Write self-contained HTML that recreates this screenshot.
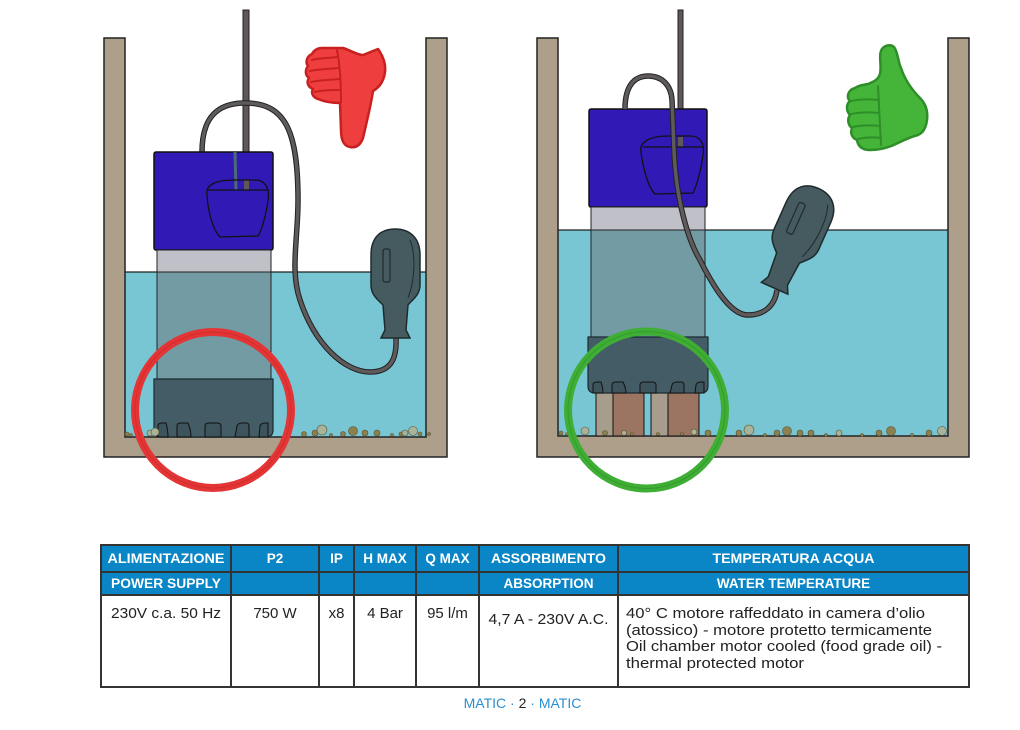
<!DOCTYPE html>
<html><head><meta charset="utf-8"><style>
html,body{margin:0;padding:0;background:#fff;}
svg{display:block;}
text{font-family:"Liberation Sans",sans-serif;}
</style></head><body>
<svg width="1020" height="730" viewBox="0 0 1020 730" xmlns="http://www.w3.org/2000/svg">
<defs>
<g id="float">
<path d="M371,255 C371,235 383,229 395,229 C410,229 420,238 420,255 L420,285 C420,295 412,300 408,305 L406,330 L410,338 L381,338 L385,330 L383,305 C378,300 371,295 371,285 Z" fill="#465b60" stroke="#1e2a2c" stroke-width="1.5"/>
<rect x="383" y="249" width="7" height="33" rx="2" fill="none" stroke="#1e2a2c" stroke-width="1.2"/>
<path d="M410,240 C416,255 415,280 408,298" fill="none" stroke="#1e2a2c" stroke-width="1"/>
</g>
</defs>

<!-- LEFT TANK -->
<rect x="125" y="272" width="304" height="165" fill="#78c6d4"/>
<line x1="125" y1="272" x2="432" y2="272" stroke="#222" stroke-width="1.2"/>
<path d="M104,38 L125,38 L125,437 L426,437 L426,38 L447,38 L447,457 L104,457 Z" fill="#ae9f8b" stroke="#222" stroke-width="1.5"/>

<!-- left pump -->
<rect x="243" y="10" width="6" height="180" fill="#5f5758" stroke="#222" stroke-width="1"/>
<path d="M202,152 C202,120 215,103 245,103 C285,103 298,130 298,200 C298,240 290,270 300,300 C315,345 345,372 370,372 C390,372 397,360 396,338" fill="none" stroke="#222" stroke-width="5.5"/>
<path d="M202,152 C202,120 215,103 245,103 C285,103 298,130 298,200 C298,240 290,270 300,300 C315,345 345,372 370,372 C390,372 397,360 396,338" fill="none" stroke="#5f5a5b" stroke-width="3.5"/>
<rect x="154" y="152" width="119" height="98" rx="2" fill="#3119b6" stroke="#111" stroke-width="1.5"/>
<line x1="235" y1="152" x2="236" y2="190" stroke="#4a6a78" stroke-width="3"/>
<rect x="244" y="180" width="5" height="10" fill="#5f5758"/>
<path d="M207,195 C205,185 215,180 235,180 L255,180 C265,180 270,188 268,200 C266,215 262,230 258,236 L220,237 C213,230 208,212 207,195 Z" fill="none" stroke="#111" stroke-width="1.3"/>
<line x1="208" y1="190" x2="268" y2="190" stroke="#111" stroke-width="1.2"/>
<rect x="157" y="250" width="114" height="22" fill="#bfc0c8" stroke="#222" stroke-width="1"/>
<rect x="157" y="272" width="114" height="107" fill="#739ba4" stroke="#222" stroke-width="1"/>
<path d="M154,379 L273,379 L273,430 Q273,437 266,437 L161,437 Q154,437 154,430 Z" fill="#445c66" stroke="#1a2a30" stroke-width="1.2"/>
<g fill="#3d545d" stroke="#111" stroke-width="1">
<path d="M158,437 L158,426 Q158,423 162,423 L166,423 Q168,430 168,437 Z"/>
<path d="M177,437 L177,426 Q177,423 181,423 L188,423 Q191,430 191,437 Z"/>
<path d="M205,437 L205,426 Q205,423 209,423 L217,423 Q221,423 221,426 L221,437 Z"/>
<path d="M235,437 L237,426 Q238,423 242,423 L246,423 Q249,423 249,426 L249,437 Z"/>
<path d="M259,437 L260,426 Q261,423 265,423 L268,423 L268,437 Z"/>
</g>
<use href="#float"/>
<!-- pebbles left -->
<g fill="#8a8050" stroke="#5a5030" stroke-width="0.6">
<circle cx="127" cy="434" r="2"/><circle cx="131" cy="435" r="1.5"/><circle cx="150" cy="433" r="3" fill="#a8b49a"/>
<circle cx="155" cy="432" r="4" fill="#a8b49a"/><circle cx="304" cy="434" r="2.5"/><circle cx="315" cy="433" r="3"/>
<circle cx="322" cy="430" r="5" fill="#a8b49a"/><circle cx="331" cy="435" r="1.5"/><circle cx="343" cy="434" r="2.5"/>
<circle cx="353" cy="431" r="4.5"/><circle cx="365" cy="433" r="3"/><circle cx="377" cy="433" r="3"/>
<circle cx="392" cy="435" r="1.5"/><circle cx="401" cy="434" r="2"/><circle cx="405" cy="433" r="3" fill="#a8b49a"/>
<circle cx="413" cy="431" r="4.5" fill="#a8b49a"/><circle cx="420" cy="434" r="2"/><circle cx="429" cy="434" r="1.5"/>
</g>
<!-- thumbs down -->
<path d="M322,48 L343,48 C350,50 357,55 363,55 L378,49 C383,56 386,64 385,72 C384,80 380,87 373,91 C371,105 366,125 363,138 C360,146 355,148 350,147 C344,146 341,140 341,130 L340,103 C333,103 325,102 318,99 C312,97 311,92 313,89 C308,87 306,82 309,78 C305,75 305,70 308,66 C305,62 307,56 312,54 C314,50 318,48 322,48 Z" fill="#ef3e3e" stroke="#c82020" stroke-width="2.5" stroke-linejoin="round"/>
<g fill="none" stroke="#c82020" stroke-width="2" stroke-linecap="round">
<path d="M312,60 C320,58 330,58 338,57"/><path d="M310,71 C320,69 330,69 339,68"/><path d="M311,82 C320,80 330,80 340,79"/><path d="M315,92 C322,90 332,90 340,90"/><path d="M337,50 C340,65 341,85 341,102"/>
</g>
<circle cx="213" cy="410" r="78" fill="none" stroke="#e33535" stroke-width="8"/>
<circle cx="213" cy="410" r="78" fill="none" stroke="#c82626" stroke-width="1" opacity="0.6"/>

<!-- RIGHT TANK -->
<rect x="558" y="230" width="390" height="206" fill="#78c6d4"/>
<line x1="558" y1="230" x2="948" y2="230" stroke="#222" stroke-width="1.2"/>
<path d="M537,38 L558,38 L558,436 L948,436 L948,38 L969,38 L969,457 L537,457 Z" fill="#ae9f8b" stroke="#222" stroke-width="1.5"/>

<!-- right pump -->
<rect x="678" y="10" width="5" height="137" fill="#5f5758" stroke="#222" stroke-width="1"/>
<rect x="589" y="109" width="118" height="98" rx="2" fill="#3119b6" stroke="#111" stroke-width="1.5"/>
<rect x="678" y="137" width="5" height="10" fill="#5f5758"/>
<path d="M641,152 C639,142 650,136 668,136 L690,136 C700,136 705,143 703,155 C701,170 697,185 693,193 L655,194 C648,187 643,168 641,152 Z" fill="none" stroke="#111" stroke-width="1.3"/>
<line x1="643" y1="147" x2="703" y2="147" stroke="#111" stroke-width="1.2"/>
<rect x="591" y="207" width="114" height="23" fill="#bfc0c8" stroke="#222" stroke-width="1"/>
<rect x="591" y="230" width="114" height="107" fill="#739ba4" stroke="#222" stroke-width="1"/>
<path d="M625,109 C625,85 635,76 648,76 C662,76 671,85 672,100 L674,150 C676,200 688,240 700,260 C720,300 735,315 748,315 C765,315 775,305 777,290" fill="none" stroke="#222" stroke-width="5.5"/>
<path d="M625,109 C625,85 635,76 648,76 C662,76 671,85 672,100 L674,150 C676,200 688,240 700,260 C720,300 735,315 748,315 C765,315 775,305 777,290" fill="none" stroke="#5f5a5b" stroke-width="3.5"/>
<rect x="596" y="393" width="17" height="43" fill="#a89c8d" stroke="#111" stroke-width="1"/>
<rect x="613" y="393" width="31" height="43" fill="#9b7562" stroke="#111" stroke-width="1"/>
<rect x="651" y="393" width="17" height="43" fill="#a89c8d" stroke="#111" stroke-width="1"/>
<rect x="668" y="393" width="31" height="43" fill="#9b7562" stroke="#111" stroke-width="1"/>
<path d="M588,337 L708,337 L708,386 Q708,393 701,393 L595,393 Q588,393 588,386 Z" fill="#445c66" stroke="#1a2a30" stroke-width="1.2"/>
<g fill="#3d545d" stroke="#111" stroke-width="1">
<path d="M593,393 L593,385 Q593,382 597,382 L601,382 Q603,388 603,393 Z"/>
<path d="M612,393 L612,385 Q612,382 616,382 L623,382 Q626,388 626,393 Z"/>
<path d="M640,393 L640,385 Q640,382 644,382 L652,382 Q656,382 656,385 L656,393 Z"/>
<path d="M670,393 L672,385 Q673,382 677,382 L681,382 Q684,382 684,385 L684,393 Z"/>
<path d="M695,393 L696,385 Q697,382 701,382 L704,382 L704,393 Z"/>
</g>
<use href="#float" transform="translate(797,238) rotate(24) translate(-395.5,-283)"/>
<!-- pebbles right -->
<g fill="#8a8050" stroke="#5a5030" stroke-width="0.6">
<circle cx="561" cy="433" r="2"/><circle cx="567" cy="434" r="1.5"/><circle cx="585" cy="431" r="4" fill="#a8b49a"/>
<circle cx="605" cy="433" r="2.5"/><circle cx="624" cy="433" r="2.5" fill="#a8b49a"/><circle cx="632" cy="434" r="1.5"/>
<circle cx="658" cy="434" r="1.5"/><circle cx="682" cy="434" r="1.5"/><circle cx="694" cy="432" r="3" fill="#a8b49a"/>
<circle cx="708" cy="433" r="3"/><circle cx="739" cy="433" r="3"/><circle cx="749" cy="430" r="5" fill="#a8b49a"/>
<circle cx="765" cy="435" r="1.5"/><circle cx="777" cy="433" r="3"/><circle cx="787" cy="431" r="4.5"/>
<circle cx="800" cy="433" r="3"/><circle cx="811" cy="433" r="3"/><circle cx="826" cy="435" r="1.5"/>
<circle cx="839" cy="433" r="3" fill="#a8b49a"/><circle cx="862" cy="435" r="1.5"/><circle cx="879" cy="433" r="3"/>
<circle cx="891" cy="431" r="4.5"/><circle cx="912" cy="435" r="1.5"/><circle cx="929" cy="433" r="3"/>
<circle cx="942" cy="431" r="4.5" fill="#a8b49a"/>
</g>
<!-- thumbs up -->
<path d="M868,84 C873,82 878,80 880,74 C882,65 878,55 882,49 C885,45 891,44 894,47 C898,52 898,62 901,68 C905,80 912,90 920,98 C926,104 928,112 927,120 C926,128 923,133 918,135 C910,137 904,140 898,143 C890,147 880,150 870,150 C862,150 858,146 857,140 C852,138 850,133 852,128 C848,125 847,119 850,115 C846,111 846,104 850,101 C846,97 848,90 855,88 C859,85 864,85 868,84 Z" fill="#45b53a" stroke="#2e8e28" stroke-width="2.5" stroke-linejoin="round"/>
<g fill="none" stroke="#2e8e28" stroke-width="2" stroke-linecap="round">
<path d="M851,101 C860,99 870,99 879,100"/><path d="M851,114 C860,112 870,112 879,113"/><path d="M853,127 C862,125 871,125 880,126"/><path d="M858,139 C866,137 874,137 881,138"/><path d="M878,86 C879,105 880,125 881,145"/>
</g>
<circle cx="646.5" cy="410" r="78.5" fill="none" stroke="#3fae35" stroke-width="8"/>
<circle cx="646.5" cy="410" r="78.5" fill="none" stroke="#2e8e28" stroke-width="1" opacity="0.6"/>

<!-- TABLE -->
<rect x="101" y="545" width="868" height="50" fill="#0a86c6"/>
<rect x="101" y="545" width="868" height="142" fill="none" stroke="#333" stroke-width="2"/>
<line x1="101" y1="572" x2="969" y2="572" stroke="#333" stroke-width="2"/>
<line x1="101" y1="595" x2="969" y2="595" stroke="#333" stroke-width="2"/>
<g stroke="#333" stroke-width="2">
<line x1="231" y1="545" x2="231" y2="687"/>
<line x1="319" y1="545" x2="319" y2="687"/>
<line x1="354" y1="545" x2="354" y2="687"/>
<line x1="416" y1="545" x2="416" y2="687"/>
<line x1="479" y1="545" x2="479" y2="687"/>
<line x1="618" y1="545" x2="618" y2="687"/>
</g>
<g fill="#fff" font-weight="bold" font-size="13.5" text-anchor="middle">
<text x="166" y="563" textLength="117" lengthAdjust="spacingAndGlyphs">ALIMENTAZIONE</text>
<text x="275" y="563">P2</text>
<text x="336.5" y="563">IP</text>
<text x="385" y="563">H MAX</text>
<text x="447.5" y="563">Q MAX</text>
<text x="548.5" y="563" textLength="115" lengthAdjust="spacingAndGlyphs">ASSORBIMENTO</text>
<text x="793.5" y="563" textLength="162" lengthAdjust="spacingAndGlyphs">TEMPERATURA ACQUA</text>
<text x="166" y="588" textLength="110" lengthAdjust="spacingAndGlyphs">POWER SUPPLY</text>
<text x="548.5" y="588">ABSORPTION</text>
<text x="793.5" y="588">WATER TEMPERATURE</text>
</g>
<g fill="#222" font-size="15" text-anchor="middle">
<text x="166" y="618" textLength="110" lengthAdjust="spacingAndGlyphs">230V c.a. 50 Hz</text>
<text x="275" y="618">750 W</text>
<text x="336.5" y="618">x8</text>
<text x="385" y="618">4 Bar</text>
<text x="447.5" y="618">95 l/m</text>
<text x="548.5" y="624" textLength="120" lengthAdjust="spacingAndGlyphs">4,7 A - 230V A.C.</text>
</g>
<g fill="#222" font-size="14.5">
<text x="626" y="618" textLength="299" lengthAdjust="spacingAndGlyphs">40° C motore raffeddato in camera  d’olio</text>
<text x="626" y="635" textLength="306" lengthAdjust="spacingAndGlyphs">(atossico) - motore protetto termicamente</text>
<text x="626" y="651" textLength="316" lengthAdjust="spacingAndGlyphs">Oil chamber motor cooled (food grade oil) -</text>
<text x="626" y="668" textLength="178" lengthAdjust="spacingAndGlyphs">thermal protected motor</text>
</g>
<text x="522.5" y="708" font-size="14" text-anchor="middle" fill="#2a8fd0">MATIC · <tspan fill="#222">2</tspan> · MATIC</text>
</svg>
</body></html>
